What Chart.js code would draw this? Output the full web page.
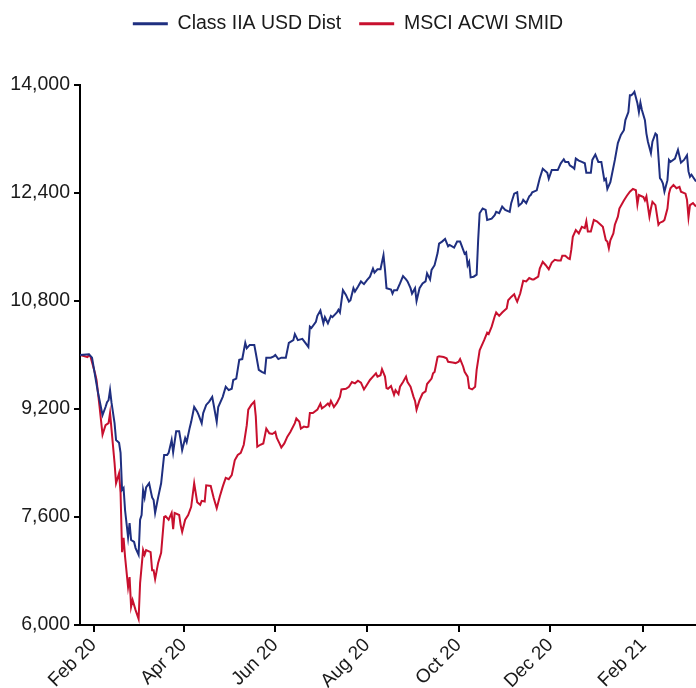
<!DOCTYPE html>
<html>
<head>
<meta charset="utf-8">
<script src="https://cdn.jsdelivr.net/npm/chart.js@4.4.1/dist/chart.umd.min.js"></script>
<style>
  html, body { margin: 0; padding: 0; background: #fff; }
  #wrap { width: 696px; height: 688px; }
</style>
</head>
<body>
<div id="wrap"><canvas id="perfChart" width="696" height="688"></canvas></div>
<script>
// Growth of 10,000 – fund share class vs. benchmark
const seriesNames = ['Class IIA USD Dist', 'MSCI ACWI SMID'];

const classDates = [
  '2020-01-23','2020-01-29','2020-01-31','2020-02-02','2020-02-04','2020-02-07','2020-02-09','2020-02-10','2020-02-11','2020-02-12',
  '2020-02-13','2020-02-15','2020-02-16','2020-02-18','2020-02-19','2020-02-20','2020-02-21','2020-02-22','2020-02-24','2020-02-25',
  '2020-02-26','2020-02-28','2020-02-29','2020-03-02','2020-03-03','2020-03-04','2020-03-05','2020-03-06','2020-03-07','2020-03-09',
  '2020-03-11','2020-03-12','2020-03-13','2020-03-15','2020-03-17','2020-03-19','2020-03-21','2020-03-22','2020-03-24','2020-03-25',
  '2020-03-27','2020-03-29','2020-03-30','2020-03-31','2020-04-02','2020-04-03','2020-04-05','2020-04-06','2020-04-08','2020-04-10',
  '2020-04-11','2020-04-13','2020-04-14','2020-04-16','2020-04-18','2020-04-20','2020-04-21','2020-04-23','2020-04-24','2020-04-27',
  '2020-04-29','2020-05-01','2020-05-03','2020-05-04','2020-05-06','2020-05-08','2020-05-10','2020-05-12','2020-05-13','2020-05-15',
  '2020-05-18','2020-05-19','2020-05-21','2020-05-23','2020-05-25','2020-05-26','2020-05-29','2020-05-31','2020-06-01','2020-06-03',
  '2020-06-05','2020-06-08','2020-06-10','2020-06-13','2020-06-14','2020-06-16','2020-06-19','2020-06-21','2020-06-23','2020-06-24',
  '2020-06-25','2020-06-28','2020-06-29','2020-07-01','2020-07-03','2020-07-04','2020-07-06','2020-07-08','2020-07-09','2020-07-12',
  '2020-07-13','2020-07-14','2020-07-16','2020-07-18','2020-07-20','2020-07-21','2020-07-23','2020-07-24','2020-07-26','2020-07-28',
  '2020-07-30','2020-08-01','2020-08-03','2020-08-05','2020-08-06','2020-08-08','2020-08-10','2020-08-12','2020-08-13','2020-08-14',
  '2020-08-17','2020-08-18','2020-08-19','2020-08-21','2020-08-23','2020-08-25','2020-08-27','2020-08-28','2020-08-30','2020-08-31',
  '2020-09-02','2020-09-03','2020-09-05','2020-09-07','2020-09-09','2020-09-10','2020-09-12','2020-09-13','2020-09-15','2020-09-17',
  '2020-09-18','2020-09-20','2020-09-22','2020-09-24','2020-09-25','2020-09-28','2020-09-30','2020-10-02','2020-10-04','2020-10-05',
  '2020-10-06','2020-10-07','2020-10-08','2020-10-09','2020-10-11','2020-10-13','2020-10-14','2020-10-15','2020-10-17','2020-10-19',
  '2020-10-20','2020-10-23','2020-10-25','2020-10-26','2020-10-28','2020-10-30','2020-11-01','2020-11-04','2020-11-05','2020-11-07',
  '2020-11-09','2020-11-10','2020-11-12','2020-11-13','2020-11-15','2020-11-17','2020-11-18','2020-11-19','2020-11-22','2020-11-24',
  '2020-11-26','2020-11-29','2020-11-30','2020-12-02','2020-12-04','2020-12-06','2020-12-08','2020-12-10','2020-12-11','2020-12-13',
  '2020-12-14','2020-12-16','2020-12-17','2020-12-18','2020-12-20','2020-12-22','2020-12-24','2020-12-25','2020-12-28','2020-12-29',
  '2020-12-31','2021-01-02','2021-01-04','2021-01-06','2021-01-07','2021-01-08','2021-01-10','2021-01-11','2021-01-13','2021-01-15',
  '2021-01-17','2021-01-19','2021-01-20','2021-01-22','2021-01-23','2021-01-24','2021-01-25','2021-01-26','2021-01-28','2021-01-29',
  '2021-01-30','2021-01-31','2021-02-02','2021-02-03','2021-02-04','2021-02-06','2021-02-07','2021-02-09','2021-02-10','2021-02-11',
  '2021-02-12','2021-02-13','2021-02-14','2021-02-15','2021-02-17','2021-02-18','2021-02-19','2021-02-22','2021-02-24','2021-02-26',
  '2021-02-28','2021-03-02','2021-03-03','2021-03-04','2021-03-05','2021-03-08'
];
const classValues = [
  10000, 10010, 9960, 9700, 9440, 9110, 9230, 9300, 9330, 9480,
  9290, 8990, 8740, 8700, 8550, 8000, 8030, 7700, 7300, 7510,
  7260, 7230, 7140, 7040, 7560, 7630, 8000, 7890, 8040, 8100,
  7890, 7850, 7660, 7890, 8100, 8520, 8520, 8550, 8740, 8560,
  8870, 8870, 8740, 8590, 8770, 8710, 8920, 9010, 9230, 9160,
  9110, 8990, 9140, 9260, 9310, 9380, 9260, 9010, 9230, 9380,
  9530, 9480, 9500, 9630, 9650, 9930, 9940, 10180, 10100, 10150,
  10150, 10030, 9780, 9750, 9730, 9960, 9960, 9980, 10000, 9940,
  9960, 9960, 10180, 10220, 10310, 10220, 10240, 10180, 10120, 10420,
  10400, 10490, 10580, 10660, 10470, 10560, 10470, 10580, 10560, 10630,
  10670, 10630, 10960, 10890, 10790, 10810, 10990, 10940, 11010, 11090,
  11050, 11110, 11160, 11280, 11220, 11270, 11270, 11480, 11260, 10990,
  10970, 10910, 10960, 10960, 11060, 11170, 11120, 11090, 10990, 10910,
  10990, 10800, 10990, 11060, 11090, 11210, 11120, 11260, 11330, 11510,
  11650, 11680, 11720, 11610, 11630, 11590, 11680, 11680, 11560, 11500,
  11520, 11330, 11380, 11150, 11160, 11190, 11700, 12100, 12170, 12150,
  12000, 12020, 12070, 12120, 12100, 12200, 12150, 12120, 12250, 12390,
  12410, 12210, 12250, 12300, 12250, 12350, 12370, 12410, 12440, 12620,
  12760, 12700, 12610, 12740, 12740, 12740, 12840, 12900, 12860, 12860,
  12810, 12780, 12760, 12910, 12880, 12860, 12840, 12700, 12700, 12890,
  12970, 12860, 12860, 12590, 12610, 12460, 12560, 12670, 12890, 13140,
  13260, 13330, 13480, 13600, 13850, 13850, 13870, 13900, 13730, 13600,
  13740, 13630, 13480, 13280, 13160, 12990, 13160, 13280, 13260, 12940,
  12620, 12590, 12540, 12420, 12590, 12890, 12860, 12910, 13040, 12850,
  12890, 12960, 12720, 12640, 12670, 12570
];

const msciDates = [
  '2020-01-23','2020-01-28','2020-01-29','2020-01-30','2020-02-02','2020-02-03','2020-02-05','2020-02-07','2020-02-09','2020-02-11',
  '2020-02-12','2020-02-13','2020-02-15','2020-02-16','2020-02-18','2020-02-19','2020-02-20','2020-02-21','2020-02-22','2020-02-24',
  '2020-02-25','2020-02-26','2020-02-27','2020-02-29','2020-03-02','2020-03-03','2020-03-05','2020-03-06','2020-03-07','2020-03-10',
  '2020-03-11','2020-03-12','2020-03-13','2020-03-15','2020-03-17','2020-03-19','2020-03-20','2020-03-22','2020-03-24','2020-03-25',
  '2020-03-26','2020-03-29','2020-03-30','2020-03-31','2020-04-02','2020-04-04','2020-04-06','2020-04-08','2020-04-10','2020-04-12',
  '2020-04-13','2020-04-15','2020-04-16','2020-04-19','2020-04-21','2020-04-23','2020-04-25','2020-04-27','2020-04-29','2020-05-01',
  '2020-05-03','2020-05-05','2020-05-07','2020-05-09','2020-05-11','2020-05-13','2020-05-14','2020-05-16','2020-05-18','2020-05-19',
  '2020-05-20','2020-05-22','2020-05-24','2020-05-26','2020-05-28','2020-05-30','2020-06-01','2020-06-02','2020-06-04','2020-06-05',
  '2020-06-07','2020-06-09','2020-06-11','2020-06-14','2020-06-15','2020-06-17','2020-06-18','2020-06-20','2020-06-22','2020-06-23',
  '2020-06-24','2020-06-26','2020-06-29','2020-07-01','2020-07-02','2020-07-04','2020-07-06','2020-07-07','2020-07-08','2020-07-10',
  '2020-07-12','2020-07-14','2020-07-15','2020-07-18','2020-07-20','2020-07-22','2020-07-24','2020-07-26','2020-07-28','2020-07-30',
  '2020-08-01','2020-08-03','2020-08-05','2020-08-07','2020-08-08','2020-08-10','2020-08-11','2020-08-13','2020-08-14','2020-08-15',
  '2020-08-17','2020-08-19','2020-08-20','2020-08-22','2020-08-23','2020-08-25','2020-08-27','2020-08-28','2020-08-30','2020-09-01',
  '2020-09-02','2020-09-03','2020-09-05','2020-09-07','2020-09-09','2020-09-10','2020-09-13','2020-09-14','2020-09-15','2020-09-17',
  '2020-09-18','2020-09-21','2020-09-23','2020-09-24','2020-09-27','2020-09-29','2020-10-01','2020-10-02','2020-10-04','2020-10-05',
  '2020-10-07','2020-10-08','2020-10-10','2020-10-12','2020-10-13','2020-10-15','2020-10-16','2020-10-18','2020-10-20','2020-10-21',
  '2020-10-23','2020-10-25','2020-10-26','2020-10-28','2020-10-30','2020-11-01','2020-11-02','2020-11-03','2020-11-05','2020-11-07',
  '2020-11-08','2020-11-09','2020-11-11','2020-11-13','2020-11-15','2020-11-17','2020-11-19','2020-11-20','2020-11-23','2020-11-24',
  '2020-11-26','2020-11-28','2020-11-30','2020-12-02','2020-12-04','2020-12-06','2020-12-08','2020-12-09','2020-12-11','2020-12-13',
  '2020-12-14','2020-12-15','2020-12-16','2020-12-18','2020-12-20','2020-12-22','2020-12-24','2020-12-25','2020-12-26','2020-12-28',
  '2020-12-30','2021-01-01','2021-01-03','2021-01-05','2021-01-07','2021-01-08','2021-01-09','2021-01-10','2021-01-12','2021-01-13',
  '2021-01-15','2021-01-16','2021-01-19','2021-01-21','2021-01-23','2021-01-25','2021-01-27','2021-01-28','2021-01-29','2021-02-01',
  '2021-02-02','2021-02-03','2021-02-05','2021-02-06','2021-02-07','2021-02-09','2021-02-11','2021-02-12','2021-02-14','2021-02-15',
  '2021-02-17','2021-02-18','2021-02-19','2021-02-21','2021-02-23','2021-02-25','2021-02-26','2021-03-01','2021-03-02','2021-03-03',
  '2021-03-04','2021-03-06','2021-03-08'
];
const msciValues = [
  10000, 9970, 10000, 9975, 9730, 9630, 9240, 8820, 8960, 8990,
  9140, 8890, 8400, 8100, 8250, 7960, 7080, 7290, 7010, 6560,
  6710, 6270, 6370, 6220, 6090, 6620, 7110, 7040, 7110, 7080,
  6810, 6810, 6680, 6920, 7070, 7600, 7610, 7560, 7660, 7420,
  7660, 7630, 7480, 7380, 7560, 7630, 7750, 8100, 7820, 7780,
  7840, 7830, 8070, 8060, 7880, 7730, 7900, 8050, 8180, 8160,
  8220, 8440, 8520, 8550, 8670, 8960, 9190, 9260, 9310, 9090,
  8640, 8670, 8690, 8910, 8840, 8830, 8860, 8770, 8680, 8630,
  8690, 8790, 8860, 8990, 9060, 9010, 8910, 8940, 8930, 8940,
  9140, 9140, 9190, 9280, 9210, 9240, 9280, 9250, 9320, 9230,
  9290, 9380, 9490, 9500, 9530, 9600, 9580, 9620, 9590, 9490,
  9560, 9630, 9680, 9730, 9680, 9700, 9790, 9680, 9510, 9500,
  9540, 9410, 9480, 9420, 9530, 9600, 9680, 9600, 9530, 9380,
  9320, 9190, 9330, 9430, 9460, 9570, 9650, 9730, 9750, 9970,
  9980, 9970, 9950, 9900, 9890, 9880, 9900, 9940, 9830, 9750,
  9680, 9510, 9490, 9530, 9780, 10070, 10120, 10220, 10330, 10310,
  10420, 10570, 10630, 10580, 10630, 10670, 10690, 10810, 10860, 10900,
  10840, 10790, 10910, 11100, 11090, 11140, 11120, 11120, 11160, 11280,
  11380, 11330, 11270, 11370, 11410, 11400, 11400, 11470, 11470, 11430,
  11420, 11560, 11750, 11850, 11800, 11900, 11880, 11980, 11830, 11830,
  12000, 11980, 11940, 11900, 11700, 11680, 11580, 11700, 11800, 11930,
  12050, 12170, 12290, 12360, 12420, 12460, 12440, 12230, 12370, 12340,
  12290, 12350, 12050, 12170, 12270, 12220, 11930, 11960, 11980, 12000,
  12170, 12390, 12470, 12520, 12470, 12490, 12420, 12390, 12300, 12040,
  12220, 12250, 12200
];

const tickDates = ['2020-02-01', '2020-04-01', '2020-06-01', '2020-08-01', '2020-10-01', '2020-12-01', '2021-02-01'];
const tickLabels = ['Feb 20', 'Apr 20', 'Jun 20', 'Aug 20', 'Oct 20', 'Dec 20', 'Feb 21'];
const yTicks = [6000, 7600, 9200, 10800, 12400, 14000];
const xFirst = '2020-01-23';
const xLast = '2021-03-08';

const DAY = 86400000;
const toDay = s => Date.parse(s) / DAY;
const toPoints = (dates, values) => dates.map((d, i) => ({ x: toDay(d), y: values[i] }));

const FONT = '"Liberation Sans", Arial, Helvetica, sans-serif';
const INK = '#1a1a1a';

// keep a fixed band above the plot for the legend
const legendBand = {
  id: 'legendBand',
  afterInit(chart) {
    const legend = chart.legend;
    const fit = legend.fit;
    legend.fit = function () {
      fit.call(this);
      this.height = 89;
    };
  }
};

new Chart(document.getElementById('perfChart'), {
  type: 'line',
  data: {
    datasets: [
      {
        label: seriesNames[0],
        data: toPoints(classDates, classValues),
        borderColor: '#1f2f80',
        backgroundColor: '#1f2f80',
        borderWidth: 2,
        pointRadius: 0,
        tension: 0
      },
      {
        label: seriesNames[1],
        data: toPoints(msciDates, msciValues),
        borderColor: '#c8102e',
        backgroundColor: '#c8102e',
        borderWidth: 2,
        pointRadius: 0,
        tension: 0
      }
    ]
  },
  options: {
    responsive: false,
    animation: false,
    layout: { padding: { top: -4, left: 0, right: 0, bottom: 0 } },
    plugins: {
      tooltip: { enabled: false },
      legend: {
        position: 'top',
        align: 'center',
        labels: {
          usePointStyle: true,
          pointStyle: 'line',
          pointStyleWidth: 35,
          padding: 18,
          color: INK,
          font: { family: FONT, size: 19.5 },
          sort: (a, b) => a.datasetIndex - b.datasetIndex,
          generateLabels(chart) {
            const items = Chart.defaults.plugins.legend.labels.generateLabels(chart);
            items.forEach(it => { it.lineWidth = 3; });
            return items;
          }
        }
      }
    },
    scales: {
      x: {
        type: 'linear',
        min: toDay(xFirst),
        max: toDay(xLast),
        afterBuildTicks(scale) {
          scale.ticks = tickDates.map(d => ({ value: toDay(d) }));
        },
        afterFit(scale) { scale.height = 63; },
        border: { display: true, color: '#000', width: 2 },
        grid: { display: true, drawOnChartArea: false, drawTicks: true, tickLength: 7, color: '#000', lineWidth: 2 },
        ticks: {
          autoSkip: false,
          minRotation: 45,
          maxRotation: 45,
          padding: 2,
          color: INK,
          font: { family: FONT, size: 19 },
          callback: (value, index) => tickLabels[index]
        }
      },
      y: {
        min: yTicks[0],
        max: yTicks[yTicks.length - 1],
        afterBuildTicks(scale) {
          scale.ticks = yTicks.map(v => ({ value: v }));
        },
        afterFit(scale) { scale.width = 80; },
        border: { display: true, color: '#000', width: 2 },
        grid: { display: true, drawOnChartArea: false, drawTicks: true, tickLength: 6, color: '#000', lineWidth: 2 },
        ticks: {
          padding: 4,
          color: INK,
          font: { family: FONT, size: 19.5 },
          callback: v => v.toLocaleString('en-US')
        }
      }
    }
  },
  plugins: [legendBand]
});
</script>
</body>
</html>
